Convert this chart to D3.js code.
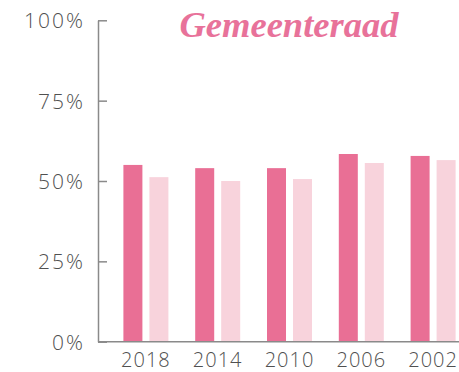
<!DOCTYPE html>
<html>
<head>
<meta charset="utf-8">
<script src="https://cdn.jsdelivr.net/npm/d3@7"></script>
<style>
  html, body { margin: 0; padding: 0; background: #fff; }
  svg { display: block; }
</style>
</head>
<body>
<svg id="chart" width="459" height="372"></svg>
<script>
// Election years and turnout shares (fractions) for the two series
const years = ["2018", "2014", "2010", "2006", "2002"];
const seriesA = [0.550, 0.540, 0.540, 0.584, 0.578];
const seriesB = [0.512, 0.500, 0.506, 0.556, 0.565];
const yTicks = [0, 0.25, 0.5, 0.75, 1];
const title = "Gemeenteraad";

const colorA = "#e96f95";
const colorB = "#f8d3dc";
const axisColor = "#8a8a8a";
const textColor = "#505050";
const labelFont = "'Open Sans', sans-serif";

const svg = d3.select("#chart");
const axisX0 = 98;

const y = d3.scaleLinear().domain([0, 1]).range([341.7, 20.3]);
const x = d3.scaleBand().domain(years).range([110, 469]).padding(0);
const sub = d3.scaleBand().domain(["a", "b"]).range([-22.5, 22.5])
  .paddingInner(0.269).paddingOuter(0);

// Bars
const groups = svg.append("g").selectAll("g")
  .data(years.map((yr, i) => ({ yr, a: seriesA[i], b: seriesB[i] })))
  .join("g")
  .attr("transform", d => `translate(${x(d.yr) + x.bandwidth() / 2},0)`);

groups.selectAll("rect")
  .data(d => [{ k: "a", v: d.a }, { k: "b", v: d.b }])
  .join("rect")
  .attr("x", d => sub(d.k))
  .attr("width", sub.bandwidth())
  .attr("y", d => y(d.v))
  .attr("height", d => y(0) - y(d.v))
  .attr("fill", d => d.k === "a" ? colorA : colorB);

// Y axis with inward ticks
const yAxis = d3.axisLeft(y)
  .tickValues(yTicks)
  .tickFormat(d3.format(".0%"))
  .tickSizeInner(-9)
  .tickSizeOuter(0)
  .tickPadding(13);

const gy = svg.append("g").attr("transform", `translate(${axisX0},0)`).call(yAxis);
gy.select(".domain").attr("stroke", axisColor).attr("stroke-width", 1.5);
gy.selectAll(".tick line").attr("stroke", axisColor).attr("stroke-width", 1.5);
gy.selectAll(".tick text")
  .attr("fill", textColor)
  .attr("font-family", labelFont)
  .attr("font-weight", 300)
  .attr("font-size", 21)
  .attr("letter-spacing", 2)
  .attr("dy", "0.36em");

// Baseline
svg.append("line")
  .attr("x1", axisX0).attr("x2", 459)
  .attr("y1", y(0)).attr("y2", y(0))
  .attr("stroke", axisColor).attr("stroke-width", 1.5);

// X labels
const xAxis = d3.axisBottom(x).tickSize(0).tickPadding(11);
const gx = svg.append("g").attr("transform", `translate(0,${y(0)})`).call(xAxis);
gx.select(".domain").remove();
gx.selectAll(".tick text")
  .attr("fill", textColor)
  .attr("font-family", labelFont)
  .attr("font-weight", 300)
  .attr("font-size", 20)
  .attr("letter-spacing", 1);

// Title
svg.append("text")
  .attr("x", 289)
  .attr("y", 37)
  .attr("text-anchor", "middle")
  .attr("fill", "#e8729a")
  .attr("font-family", "'Liberation Serif', serif")
  .attr("font-style", "italic")
  .attr("font-weight", "bold")
  .attr("font-size", 36.5)
  .text(title);
</script>
</body>
</html>
